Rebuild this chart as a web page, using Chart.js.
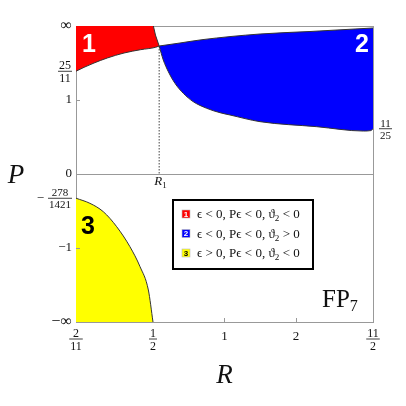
<!DOCTYPE html>
<html>
<head>
<meta charset="utf-8">
<script src="https://cdn.jsdelivr.net/npm/chart.js"></script>
<style>
  html, body { margin: 0; padding: 0; background: #fff; }
  #wrap { width: 406px; height: 406px; }
</style>
</head>
<body>
<div id="wrap"><canvas id="fp7" width="406" height="406"></canvas></div>
<script>
// ticks, in real R and P values (the axes are compactified)
const rTicks = [2/11, 1/2, 1, 2, 11/2];
const rTickLabels = ['2/11', '1/2', '1', '2', '11/2'];
const pTicks = [Infinity, 25/11, 1, 0, -278/1421, -1, -Infinity];
const pTickLabels = ['∞', '25/11', '1', '0', '−278/1421', '−1', '−∞'];

const R1 = 0.533;
const P1 = 6.4;   // where regions 1 and 2 touch

// region 1: lower curve and upper edge (left -> R1)
const red1LowR = [2/11, 0.2085, 0.2435, 0.2933, 0.362, 0.438, 0.514, R1];
const red1LowP = [25/11, 2.58, 3.0, 3.625, 4.48, 5.25, 5.95, P1];
const red1TopR = [2/11, 0.502, 0.513, R1];
const red1TopP = [Infinity, Infinity, 15.4, P1];

// region 2: upper and lower curves (R1 -> 11/2)
const blue2TopR = [R1, 0.656, 0.81, 1.397, 2.325, 11/2];
const blue2TopP = [P1, 7.7, 9.8, 17.5, 25.9, 73];
const blue2LowR = [R1, 0.556, 0.585, 0.625, 0.678, 0.746, 0.847, 0.959, 1.0526, 1.397, 2.508, 4.67, 5.3, 11/2];
const blue2LowP = [P1, 3.35, 2.24, 1.58, 1.198, 0.955, 0.798, 0.707, 0.663, 0.547, 0.470, 0.409, 0.415, 0.44];

// region 3: curve from the left edge down to P = -inf
const yel3R = [2/11, 0.229, 0.278, 0.331, 0.388, 0.435, 0.476, 1/2];
const yel3P = [-278/1421, -0.247, -0.342, -0.553, -0.965, -1.676, -3.62, -Infinity];

const regionNames = ['1', '2', '3'];
const regionColors = ['#ff0000', '#0000ff', '#ffff00'];
const legendLabels = ['ϵ < 0, Pϵ < 0, ϑ_2 < 0', 'ϵ < 0, Pϵ < 0, ϑ_2 > 0', 'ϵ > 0, Pϵ < 0, ϑ_2 < 0'];

const toU = r => (r - 1) / (r + 1);
const toV = p => p === Infinity ? 1 : p === -Infinity ? -1 : p / (1 + Math.abs(p));
const pts = (rs, ps) => rs.map((r, i) => ({x: toU(r), y: toV(ps[i])}));

const serif = '"Liberation Serif", "DejaVu Serif", serif';
const sans = '"Liberation Sans", Arial, sans-serif';

function curve(label, data, fill, color, smooth) {
    return { label: label, data: data, showLine: true, fill: fill, backgroundColor: color,
             borderColor: '#333', borderWidth: 1, pointRadius: 0,
             cubicInterpolationMode: smooth ? 'monotone' : 'default' };
}

// fraction like '25/11' (optional leading minus), bar centred on y
function drawFrac(ctx, txt, x, y, size, align) {
    let sign = '';
    if (txt[0] === '−') { sign = '−'; txt = txt.slice(1); }
    const parts = txt.split('/');
    ctx.font = size + 'px ' + serif;
    const w = Math.max(ctx.measureText(parts[0]).width, ctx.measureText(parts[1]).width) + 2;
    ctx.font = (size + 2) + 'px ' + serif;
    const sw = sign ? ctx.measureText(sign).width + 4 : 0;
    let left = align === 'right' ? x - w - sw : align === 'center' ? x - w / 2 : x;
    ctx.textAlign = 'left';
    ctx.textBaseline = 'alphabetic';
    if (sign) { ctx.fillText(sign, left, y + 4); left += sw; }
    ctx.font = size + 'px ' + serif;
    ctx.textAlign = 'center';
    ctx.fillText(parts[0], left + w / 2, y - 2);
    ctx.fillText(parts[1], left + w / 2, y + 2 + 0.72 * size);
    ctx.fillRect(left, y - 0.4, w, 0.8);
}

function drawLabel(ctx, txt, x, y, size, align, base) {
    if (txt.indexOf('/') >= 0) { drawFrac(ctx, txt, x, y, size, align); return; }
    const inf = txt.indexOf('∞') >= 0;
    ctx.font = (inf ? size + 4 : size + 1) + 'px ' + serif;
    ctx.textAlign = align;
    ctx.textBaseline = base;
    ctx.fillText(txt, x, y);
}

// text with "_2" style subscripts
function drawSubText(ctx, txt, x, y, size) {
    const bits = txt.split('_');
    ctx.textAlign = 'left';
    ctx.textBaseline = 'alphabetic';
    bits.forEach((b, i) => {
        let body = b;
        if (i > 0) {
            ctx.font = (size * 0.7) + 'px ' + serif;
            ctx.fillText(b[0], x, y + 3);
            x += ctx.measureText(b[0]).width;
            body = b.slice(1);
        }
        ctx.font = size + 'px ' + serif;
        ctx.fillText(body, x, y);
        x += ctx.measureText(body).width;
    });
}

const labelsPlugin = {
    id: 'fp7labels',
    afterDraw(chart) {
        const ctx = chart.ctx;
        const xs = chart.scales.x, ys = chart.scales.y;
        const ca = chart.chartArea;
        ctx.save();
        ctx.fillStyle = '#111';

        // small inner tick marks
        ctx.strokeStyle = '#999';
        ctx.lineWidth = 1;
        [1, -1].forEach(p => {
            const y = Math.round(ys.getPixelForValue(toV(p))) + 0.5;
            ctx.beginPath(); ctx.moveTo(ca.left, y); ctx.lineTo(ca.left + 4, y); ctx.stroke();
        });
        [1, 2].forEach(r => {
            const x = Math.round(xs.getPixelForValue(toU(r))) + 0.5;
            ctx.beginPath(); ctx.moveTo(x, ca.bottom); ctx.lineTo(x, ca.bottom - 4); ctx.stroke();
        });

        // y tick labels
        pTicks.forEach((p, i) => {
            drawLabel(ctx, pTickLabels[i], ca.left - 4, ys.getPixelForValue(toV(p)),
                      i === 4 ? 11 : 12, 'right', 'middle');
        });
        // x tick labels
        rTicks.forEach((r, i) => {
            const x = xs.getPixelForValue(toU(r));
            if (rTickLabels[i].indexOf('/') >= 0) drawFrac(ctx, rTickLabels[i], x, ca.bottom + 17, 12, 'center');
            else drawLabel(ctx, rTickLabels[i], x, ca.bottom + 18, 12, 'center', 'alphabetic');
        });
        // right-hand end value of region 2
        drawFrac(ctx, '11/25', ca.right + 6, ys.getPixelForValue(toV(11/25)), 11, 'left');

        // R1 marker label
        const xr = xs.getPixelForValue(toU(R1));
        ctx.font = 'italic 13px ' + serif;
        ctx.textAlign = 'right';
        ctx.textBaseline = 'alphabetic';
        ctx.fillText('R', xr + 3, ys.getPixelForValue(0) + 11);
        ctx.font = '9px ' + serif;
        ctx.textAlign = 'left';
        ctx.fillText('1', xr + 3, ys.getPixelForValue(0) + 14);

        // axis titles
        ctx.font = 'italic 27px ' + serif;
        ctx.textAlign = 'center';
        ctx.fillText('P', 16, ys.getPixelForValue(0) + 9);
        ctx.fillText('R', (ca.left + ca.right) / 2, ca.bottom + 61);

        // FP7
        ctx.font = '25px ' + serif;
        ctx.textAlign = 'left';
        ctx.fillText('FP', ca.right - 51, ca.bottom - 15);
        const fw = ctx.measureText('FP').width;
        ctx.font = '16px ' + serif;
        ctx.fillText('7', ca.right - 51 + fw, ca.bottom - 11);

        // region numbers
        ctx.font = 'bold 25px ' + sans;
        ctx.textAlign = 'center';
        ctx.textBaseline = 'middle';
        ctx.fillStyle = '#fff';
        ctx.fillText(regionNames[0], ca.left + 13, ca.top + 19);
        ctx.fillText(regionNames[1], ca.right - 11, ca.top + 19);
        ctx.fillStyle = '#000';
        ctx.fillText(regionNames[2], ca.left + 12, ca.top + 201);

        // legend
        const lx = ca.left + 97, ly = 200, lw = 140, lh = 69;
        ctx.fillStyle = '#fff';
        ctx.fillRect(lx, ly, lw, lh);
        ctx.strokeStyle = '#000';
        ctx.lineWidth = 2;
        ctx.strokeRect(lx, ly, lw, lh);
        legendLabels.forEach((t, i) => {
            const cy = ly + 14 + i * 19.5;
            ctx.fillStyle = regionColors[i];
            ctx.fillRect(lx + 9, cy - 4, 8, 8);
            ctx.strokeStyle = '#bbb';
            ctx.lineWidth = 0.6;
            ctx.strokeRect(lx + 9, cy - 4, 8, 8);
            ctx.fillStyle = i === 2 ? '#000' : '#fff';
            ctx.font = 'bold 8px ' + sans;
            ctx.textAlign = 'center';
            ctx.textBaseline = 'middle';
            ctx.fillText(regionNames[i], lx + 13, cy + 0.5);
            ctx.fillStyle = '#111';
            drawSubText(ctx, t, lx + 24, cy + 4, 13);
        });
        ctx.restore();
    }
};

const redTop = curve('', pts(red1TopR, red1TopP), false, regionColors[0], false);
redTop.borderWidth = 0;

new Chart(document.getElementById('fp7').getContext('2d'), {
    type: 'scatter',
    data: {
        datasets: [
            curve(legendLabels[0], pts(red1LowR, red1LowP), 1, regionColors[0], true),   // 0
            redTop,                                                                      // 1
            curve('', pts(red1TopR.slice(1), red1TopP.slice(1)), false, regionColors[0], false), // 2
            curve(legendLabels[1], pts(blue2TopR, blue2TopP), 4, regionColors[1], true), // 3
            curve('', pts(blue2LowR, blue2LowP), false, regionColors[1], true),          // 4
            curve(legendLabels[2], pts(yel3R, yel3P), 'start', regionColors[2], true),    // 5
            { data: pts([R1, R1], [P1, 0]), showLine: true, fill: false, borderColor: '#444',
              borderWidth: 1, borderDash: [1.5, 1.5], pointRadius: 0 }
        ]
    },
    options: {
        responsive: false,
        animation: false,
        layout: { padding: { left: 76, right: 33, top: 26, bottom: 84 } },
        plugins: {
            legend: { display: false },
            tooltip: { enabled: false },
            filler: { drawTime: 'beforeDatasetsDraw' }
        },
        scales: {
            x: {
                type: 'linear', min: toU(rTicks[0]), max: toU(rTicks[4]),
                afterBuildTicks: s => { s.ticks = rTicks.map(r => ({value: toU(r)})); },
                afterFit: s => { s.height = 0; },
                ticks: { display: false, autoSkip: false },
                border: { color: '#999', width: 1 },
                grid: { drawTicks: false, color: c => c.index === 4 ? '#999' : 'rgba(0,0,0,0)' }
            },
            y: {
                type: 'linear', min: -1, max: 1,
                afterBuildTicks: s => { s.ticks = pTicks.map(p => ({value: toV(p)})); },
                afterFit: s => { s.width = 0; },
                ticks: { display: false, autoSkip: false },
                border: { color: '#999', width: 1 },
                grid: { drawTicks: false,
                        color: c => [0, 3, 6].indexOf(c.index) >= 0 ? '#999' : 'rgba(0,0,0,0)' }
            }
        }
    },
    plugins: [labelsPlugin]
});
</script>
</body>
</html>
